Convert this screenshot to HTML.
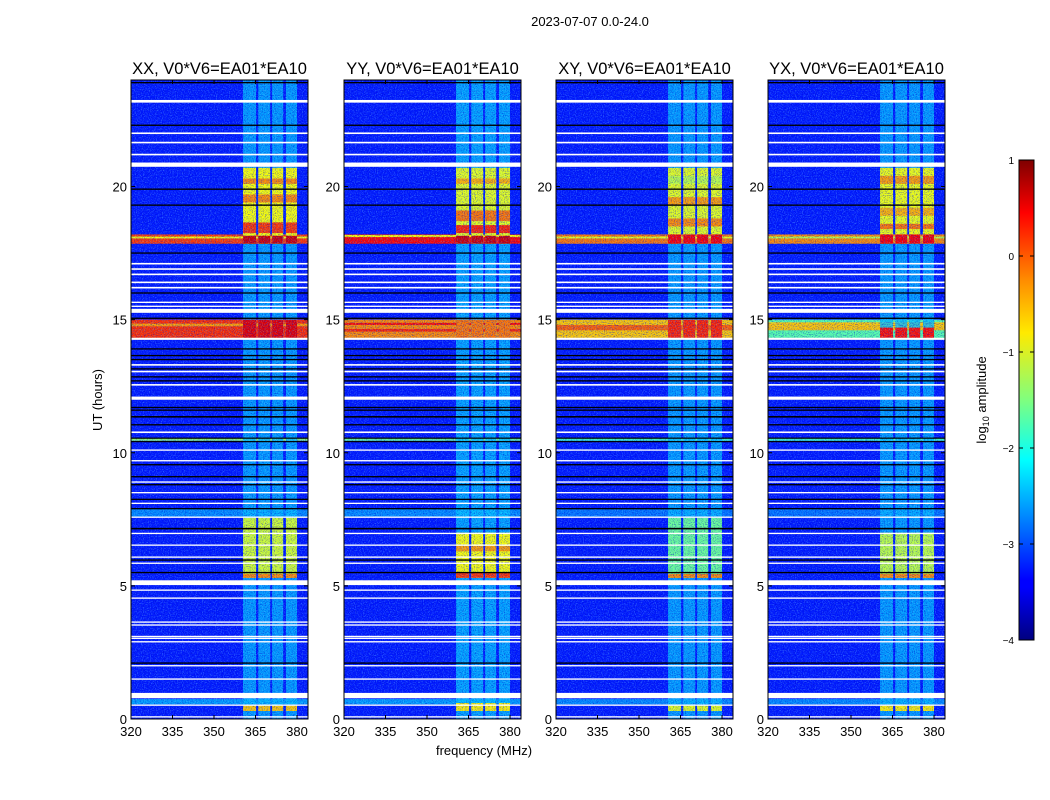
<!DOCTYPE html>
<html><head><meta charset="utf-8">
<style>
html,body{margin:0;padding:0;background:#fff;}
svg{display:block;font-family:"Liberation Sans",sans-serif;}
</style></head>
<body>
<svg id="chart" width="1050" height="800" xmlns="http://www.w3.org/2000/svg">
<defs>
<filter id="speckle" x="0" y="0" width="100%" height="100%">
<feTurbulence type="fractalNoise" baseFrequency="0.85" numOctaves="1" seed="3" result="n"/>
<feColorMatrix in="n" type="matrix" values="0 0 0 0 0.2  0 0 0 0 0.7  0 0 0 0 1  3.2 0 0 0 -1.5"/>
</filter>
<filter id="speckle2" x="0" y="0" width="100%" height="100%">
<feTurbulence type="fractalNoise" baseFrequency="0.9" numOctaves="1" seed="11" result="n"/>
<feColorMatrix in="n" type="matrix" values="0 0 0 0 0  0 0 0 0 0  0 0 0 0 0.6  3 0 0 0 -1.4"/>
</filter>
<linearGradient id="jet" x1="0" y1="1" x2="0" y2="0">
<stop offset="0" stop-color="#00007f"/><stop offset="0.11" stop-color="#0000ff"/>
<stop offset="0.125" stop-color="#0000ff"/><stop offset="0.34" stop-color="#00dcff"/>
<stop offset="0.375" stop-color="#00ffff"/><stop offset="0.5" stop-color="#7fff7f"/>
<stop offset="0.64" stop-color="#ffea00"/><stop offset="0.75" stop-color="#ff8c00"/>
<stop offset="0.89" stop-color="#ff0000"/><stop offset="1" stop-color="#7f0000"/>
</linearGradient>
</defs>
<text x="590" y="26" font-size="13" text-anchor="middle">2023-07-07 0.0-24.0</text>
<g id="panels"></g>
<text transform="translate(102,400) rotate(-90)" font-size="13" text-anchor="middle">UT (hours)</text>
<text x="484" y="755" font-size="13" text-anchor="middle">frequency (MHz)</text>
<g>
<rect x="1019" y="160" width="15" height="480" fill="url(#jet)" stroke="#000" stroke-width="1"/>
<g id="cbticks"></g>
<text transform="translate(986,400) rotate(-90)" font-size="13" text-anchor="middle">log<tspan font-size="9" dy="3">10</tspan><tspan dy="-3"> amplitude</tspan></text>
</g>
</svg>
<script>
const panelTitles = ["XX, V0*V6=EA01*EA10","YY, V0*V6=EA01*EA10","XY, V0*V6=EA01*EA10","YX, V0*V6=EA01*EA10"];
const xTicks = [320,335,350,365,380];
const yTicks = [0,5,10,15,20];
const cbTicks = [1,0,-1,-2,-3,-4];
const cbTickLabels = ["1","0","\u22121","\u22122","\u22123","\u22124"];
const backgroundLevel = [-3.25,-3.25,-3.25,-3.25];
const bandLevel = [-2.45,-2.4,-2.45,-2.45];
const bandColumns = [[360.5,365.2],[366,370.3],[371,375],[376,380]];
// full-width stripes [t0, t1, log10 amp] per panel
const stripesXX = [[7.6,7.9,-2.7],[17.85,18.2,0.1],[18.05,18.12,-0.9],[14.3,15.0,0.15],[14.75,14.85,-0.4],[10.45,10.55,-1.4],[0.55,0.75,-2.6]];
const stripesYY = [[7.6,7.9,-2.7],[17.85,18.2,0.35],[18.1,18.18,-0.8],[14.3,15.0,-0.3],[14.55,14.65,0.2],[14.8,14.88,0.3],[10.45,10.55,-1.6],[0.55,0.75,-2.6]];
const stripesXY = [[7.6,7.9,-2.8],[17.85,18.2,-0.2],[18.05,18.12,-1.0],[14.3,15.0,-0.6],[14.6,14.8,-0.1],[10.45,10.55,-1.8],[0.55,0.75,-2.7]];
const stripesYX = [[7.6,7.9,-2.8],[17.85,18.2,-0.3],[18.05,18.12,-1.2],[14.3,15.0,-1.7],[14.6,14.9,-0.6],[10.45,10.55,-1.8],[0.55,0.75,-2.7]];
// in-band blocks [t0, t1, log10 amp]
const blocksXX = [[5.3,7.55,-1.1],[5.3,5.45,-0.3],[17.85,20.7,-0.9],[20.1,20.3,-0.3],[19.4,19.7,-0.3],[18.25,18.65,0.1],[17.85,18.15,0.6],[14.3,15.0,0.5],[0.3,0.5,-0.6]];
const blocksYY = [[5.3,7.0,-0.9],[5.3,5.5,0.1],[6.3,6.5,-0.4],[17.85,20.7,-1.0],[20.1,20.3,-0.5],[18.7,19.1,-0.2],[18.25,18.55,0.2],[17.85,18.15,0.6],[14.3,15.0,-0.2],[0.3,0.6,-0.8]];
const blocksXY = [[5.3,7.55,-1.6],[5.3,5.45,-0.3],[17.85,20.7,-1.0],[20.1,20.4,-1.2],[19.3,19.6,-0.4],[18.5,18.8,-0.3],[17.85,18.2,0.4],[14.3,15.0,0.2],[0.3,0.5,-1.0]];
const blocksYX = [[5.3,7.0,-1.2],[5.3,5.45,-0.3],[17.85,20.7,-0.95],[20.1,20.4,-0.4],[18.9,19.2,-0.5],[18.4,18.6,-0.2],[17.85,18.2,0.4],[14.3,14.7,0.3],[0.3,0.5,-0.8]];
const panelStripes = [stripesXX,stripesYY,stripesXY,stripesYX];
const panelBlocks = [blocksXX,blocksYY,blocksXY,blocksYX];
// flagged rows [hour, thickness hours]
const whiteLines = [[23.2,0.1],[22.0,0.06],[21.65,0.06],[21.2,0.06],[20.82,0.16],[17.1,0.06],[16.9,0.06],[16.7,0.06],[16.4,0.06],[16.2,0.06],[15.65,0.05],[15.5,0.05],[15.33,0.15],[14.28,0.08],[13.3,0.06],[13.05,0.06],[12.55,0.06],[12.05,0.12],[10.77,0.06],[10.1,0.05],[9.7,0.05],[8.9,0.05],[8.5,0.05],[8.1,0.05],[7.58,0.05],[6.97,0.05],[6.53,0.05],[6.08,0.05],[5.85,0.05],[5.12,0.18],[4.84,0.05],[4.54,0.05],[3.64,0.05],[3.53,0.05],[3.1,0.05],[3.03,0.05],[2.9,0.05],[2.0,0.05],[1.5,0.05],[0.88,0.2],[0.52,0.05],[0.08,0.05]];
const blackLines = [[23.9,0.05],[22.3,0.05],[19.9,0.05],[19.3,0.05],[17.5,0.05],[16.0,0.05],[15.05,0.05],[13.9,0.05],[13.65,0.05],[13.5,0.05],[13.15,0.05],[12.85,0.05],[12.7,0.05],[11.7,0.05],[11.6,0.05],[11.35,0.06],[11.05,0.05],[10.55,0.04],[10.42,0.04],[9.55,0.05],[9.1,0.05],[8.8,0.05],[8.25,0.05],[7.9,0.05],[7.15,0.06],[5.97,0.05],[5.5,0.05],[2.1,0.05]];

const PX = [131,344,556,768], PW = 177, PY = 80, PH = 639;
const NS = "http://www.w3.org/2000/svg";
function jet(v){const t=Math.max(0,Math.min(1,(v+4)/5));const c=x=>Math.round(255*Math.max(0,Math.min(1,1.5-Math.abs(4*t-x))));return `rgb(${c(3)},${c(2)},${c(1)})`;}
function mk(tag,attrs,parent){const e=document.createElementNS(NS,tag);for(const k in attrs)e.setAttribute(k,attrs[k]);parent.appendChild(e);return e;}
const root = document.getElementById('panels');
panelTitles.forEach((title,p)=>{
  const x0=PX[p];
  const xs=f=>x0+(f-320)*2.767;
  const ys=h=>719-h*26.625;
  const g=mk('g',{},root);
  
  
  const clipId='clip'+p;
  const cp=mk('clipPath',{id:clipId},g);mk('rect',{x:x0,y:PY,width:PW,height:PH},cp);
  const hm=mk('g',{'clip-path':`url(#${clipId})`},g);
  
  
  let r=mk('rect',{x:x0,y:PY,width:PW,height:PH,fill:jet(backgroundLevel[p])},hm);
  
  
  panelStripes[p].forEach(s=>{
    const e=mk('rect',{x:x0,y:ys(s[1]),width:PW,height:ys(s[0])-ys(s[1]),fill:jet(s[2])},hm);
    
    
  });
  bandColumns.forEach(c=>{
    const e=mk('rect',{x:xs(c[0]),y:PY,width:xs(c[1])-xs(c[0]),height:PH,fill:jet(bandLevel[p]),opacity:0.8},hm);
    
    
    panelBlocks[p].forEach(b=>{
      const q=mk('rect',{x:xs(c[0]),y:ys(b[1]),width:xs(c[1])-xs(c[0]),height:ys(b[0])-ys(b[1]),fill:jet(b[2])},hm);
      
      
    });
  });
  mk('rect',{x:x0,y:PY,width:PW,height:PH,fill:'#fff',filter:'url(#speckle)',opacity:0.4},hm);
  mk('rect',{x:x0,y:PY,width:PW,height:PH,fill:'#fff',filter:'url(#speckle2)',opacity:0.55},hm);
  whiteLines.forEach(l=>{
    const e=mk('rect',{x:x0,y:ys(l[0]+l[1]/2),width:PW,height:Math.max(1.3,l[1]*26.625),fill:'#fff'},hm);
    
    
  });
  blackLines.forEach(l=>{
    const e=mk('rect',{x:x0,y:ys(l[0]+l[1]/2),width:PW,height:Math.max(1.2,l[1]*26.625),fill:'#000'},hm);
    
    
  });
  const fr=mk('rect',{x:x0,y:PY,width:PW,height:PH,fill:'none',stroke:'#000','stroke-width':1},g);
  
  
  const t=mk('text',{x:x0+PW/2,y:74,'font-size':16.5,'text-anchor':'middle'},g);t.textContent=title;
  
  
  xTicks.forEach(f=>{
    const x=xs(f);
    mk('line',{x1:x,x2:x,y1:719,y2:715,stroke:'#000'},g);
    mk('line',{x1:x,x2:x,y1:80,y2:84,stroke:'#000'},g);
    const tl=mk('text',{x:x,y:736,'font-size':13,'text-anchor':'middle'},g);tl.textContent=f;
    
    
  });
  yTicks.forEach(h=>{
    const y=ys(h);
    mk('line',{x1:x0,x2:x0+4,y1:y,y2:y,stroke:'#000'},g);
    mk('line',{x1:x0+PW,x2:x0+PW-4,y1:y,y2:y,stroke:'#000'},g);
    const tl=mk('text',{x:x0-4,y:y+5,'font-size':13,'text-anchor':'end'},g);tl.textContent=h;
    
    
  });
});
const cbg=document.getElementById('cbticks');
cbTicks.forEach((v,i)=>{
  const y=640-(v+4)/5*480;
  mk('line',{x1:1019,x2:1023,y1:y,y2:y,stroke:'#000'},cbg);
  mk('line',{x1:1034,x2:1030,y1:y,y2:y,stroke:'#000'},cbg);
  const tl=mk('text',{x:1014,y:y+4,'font-size':10,'text-anchor':'end'},cbg);tl.textContent=cbTickLabels[i];
  
  
});
</script>
</body></html>
